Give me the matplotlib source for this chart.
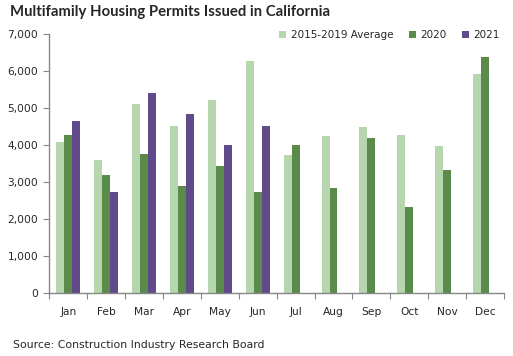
import matplotlib
matplotlib.use("Agg")
import matplotlib.pyplot as plt
import numpy as np
from matplotlib.ticker import FuncFormatter, FixedLocator

months = ["Jan", "Feb", "Mar", "Apr", "May", "Jun", "Jul", "Aug", "Sep", "Oct", "Nov", "Dec"]
avg_2015_2019 = [4080, 3590, 5100, 4510, 5210, 6280, 3730, 4240, 4480, 4270, 3970, 5910]
y2020 = [4270, 3190, 3750, 2890, 3430, 2730, 4000, 2840, 4190, 2330, 3320, 6390]
y2021 = [4660, 2730, 5400, 4830, 4000, 4510]
series_names = ["2015-2019 Average", "2020", "2021"]
colors = ["#B6D7AE", "#5A8B4B", "#604A8A"]

fig = plt.figure(figsize=(5.13, 3.56), dpi=100)
ax = fig.add_axes([49.3/513, 1 - 293.3/356, (504 - 49.3)/513, (293.3 - 34)/356])

x = np.arange(len(months))
w = 0.21
ax.bar(x - w, avg_2015_2019, width=w, color=colors[0], label=series_names[0])
ax.bar(x, y2020, width=w, color=colors[1], label=series_names[1])
ax.bar(np.arange(len(y2021)) + w, y2021, width=w, color=colors[2], label=series_names[2])

ax.set_xlim(-0.5, len(months) - 0.5)
ax.set_ylim(0, 7000)
ax.set_yticks(np.arange(0, 7001, 1000))
ax.yaxis.set_major_formatter(FuncFormatter(lambda v, p: f"{int(v):,}"))
ax.xaxis.set_major_locator(FixedLocator(np.arange(-0.5, len(months))))
ax.set_xticklabels([])
ax.xaxis.set_minor_locator(FixedLocator(x))
ax.set_xticklabels(months, minor=True)
ax.tick_params(axis="x", which="minor", length=0, pad=10)
ax.tick_params(axis="x", which="major", length=4, color="#868686", direction="out")
ax.tick_params(axis="y", length=4, color="#868686", direction="out", pad=4)
for lbl in ax.get_yticklabels() + ax.get_xticklabels(minor=True):
    lbl.set_fontsize(7.7)
    lbl.set_color("#262626")
for s in ["top", "right"]:
    ax.spines[s].set_visible(False)
for s in ["left", "bottom"]:
    ax.spines[s].set_color("#868686")
    ax.spines[s].set_linewidth(1.0)

leg = ax.legend(loc="center right", bbox_to_anchor=(1.0, 0.996), ncol=3, frameon=False,
                fontsize=7.5, handlelength=0.7, handleheight=0.7, handletextpad=0.4,
                columnspacing=1.5, borderaxespad=0)
for t in leg.get_texts():
    t.set_color("#262626")

fig.text(10/513, 1 - 12/356, "Multifamily Housing Permits Issued in California",
         fontsize=10.75, fontweight="bold", family="Lato", color="#262626", va="center", ha="left")
fig.text(13/513, 1 - 345/356, "Source: Construction Industry Research Board",
         fontsize=7.8, color="#262626", va="center", ha="left")

fig.savefig("out.png", dpi=100)
